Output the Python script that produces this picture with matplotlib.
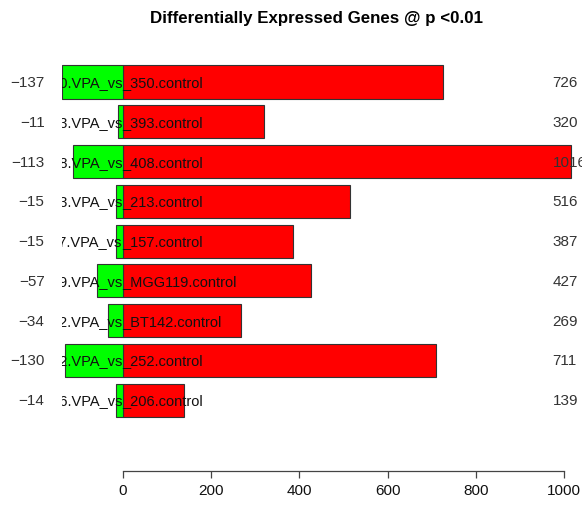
import matplotlib
matplotlib.use("Agg")
from matplotlib import pyplot as plt
import numpy as np

plt.rcParams['font.family'] = ['Liberation Sans', 'DejaVu Sans']

# sample ids for each VPA vs control comparison (top to bottom)
samples = ["350", "393", "408", "213", "157", "MGG119", "BT142", "252", "206"]
down = [-137, -11, -113, -15, -15, -57, -34, -130, -14]
up = [726, 320, 1016, 516, 387, 427, 269, 711, 139]
xticks = [0, 200, 400, 600, 800, 1000]

fig = plt.figure(figsize=(5.82, 5.06), dpi=100)
ax = fig.add_axes([0.1057, 0.0672, 0.887, 0.8538])

pos = np.arange(len(samples)) * 1.2
ax.barh(pos, up, height=1.0, color="#ff0000", edgecolor="#333333", linewidth=0.8)
ax.barh(pos, down, height=1.0, color="#00ff00", edgecolor="#333333", linewidth=0.8)

for y, s, d, u in zip(pos, samples, down, up):
    ax.text(0, y, f"{s}.VPA_vs", ha="right", va="center", fontsize=10.5,
            color="#111111", clip_on=True)
    ax.text(0, y, f"_{s}.control", ha="left", va="center", fontsize=10.5,
            color="#111111", clip_on=True)
    ax.text(-177, y, f"\u2212{abs(d)}", ha="right", va="center", fontsize=11,
            color="#333333", clip_on=False)
    ax.text(974, y, str(u), ha="left", va="center", fontsize=11,
            color="#333333", clip_on=False)

ax.set_xlim(-138.5, 1031.0)
ax.set_ylim(11.74, -1.30)

for side in ["top", "right", "left"]:
    ax.spines[side].set_visible(False)
ax.spines["bottom"].set_bounds(0, 1000)
ax.spines["bottom"].set_color("#444444")
ax.spines["bottom"].set_linewidth(0.9)
ax.set_yticks([])
ax.set_xticks(xticks)
ax.tick_params(axis="x", length=5, width=0.9, color="#444444", labelsize=11,
               pad=4, labelcolor="#111111")

fig.suptitle("Differentially Expressed Genes @ p <0.01", x=0.544, y=0.978,
             fontsize=12.2, fontweight="bold", va="top")

fig.savefig("out.png", dpi=100)
